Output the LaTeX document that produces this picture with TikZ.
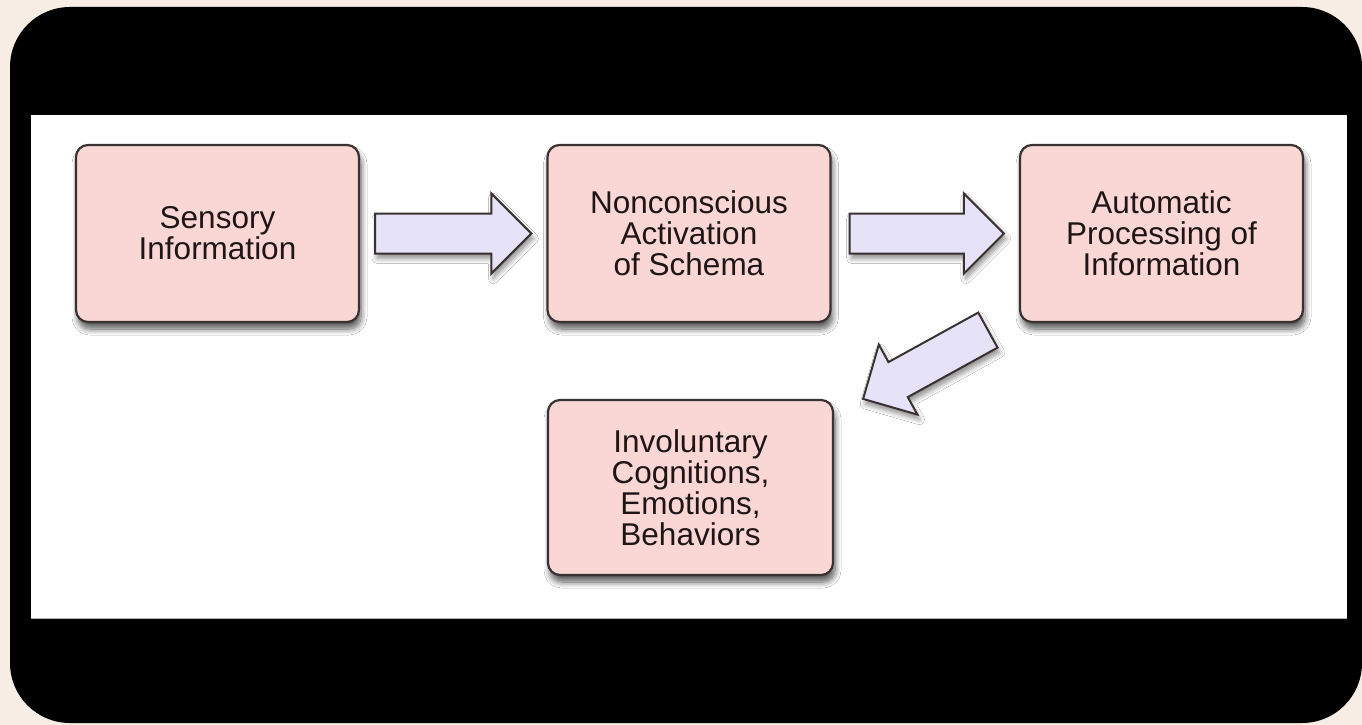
\documentclass[tikz,border=0pt]{standalone}
\usepackage{fontspec}
\setmainfont{Liberation Sans}
\usetikzlibrary{calc,shadows.blur}
\definecolor{bgbeige}{HTML}{F7EDE4}
\definecolor{boxpink}{HTML}{FAD6D5}
\definecolor{arrlav}{HTML}{E6E2F7}
\definecolor{edgedark}{HTML}{3A3232}
\definecolor{txtdark}{HTML}{1E1616}
\tikzset{
  stagebox/.style={draw=edgedark, line width=2.2pt, fill=boxpink, rounded corners=12pt,
    minimum width=283pt, align=center, text=txtdark,
    font=\fontsize{31.5}{31}\selectfont,
    blur shadow={shadow xshift=2pt, shadow yshift=-7pt, shadow blur steps=8, shadow blur radius=6pt, shadow opacity=65}},
  blockarrow/.style={draw=edgedark, line width=2pt, fill=arrlav, line join=miter,
    blur shadow={shadow xshift=2pt, shadow yshift=-5pt, shadow blur steps=6, shadow blur radius=5pt, shadow opacity=45}}
}
\newcommand\blkarrow[2]{%
  \path[blockarrow]
    ($(#1)!20pt!90:(#2)$) -- ($($(#2)!40pt!(#1)$)!20pt!-90:(#1)$)
    -- ($($(#2)!40pt!(#1)$)!40pt!-90:(#1)$) -- (#2)
    -- ($($(#2)!40pt!(#1)$)!40pt!90:(#1)$) -- ($($(#2)!40pt!(#1)$)!20pt!90:(#1)$)
    -- ($(#1)!20pt!-90:(#2)$) -- cycle;
}
\begin{document}
\begin{tikzpicture}[x=1pt,y=-1pt]
\useasboundingbox (0,0) rectangle (1362,725);
\fill[bgbeige] (0,0) rectangle (1362,725);
\fill[black, rounded corners=60pt] (10,7) rectangle (1362,723);
\fill[white] (31,115) rectangle (1347,618);
\draw[gray!60, line width=0.8pt] (31,618) -- (1347,618);

\node[stagebox, minimum height=177pt] (sens) at (217.5,233.5) {Sensory\\Information};
\node[stagebox, minimum height=177pt] (nonc) at (689,233.5) {Nonconscious\\Activation\\of Schema};
\node[stagebox, minimum height=177pt] (auto) at (1161.5,233.5) {Automatic\\Processing of\\Information};
\node[stagebox, minimum height=175pt, minimum width=285pt] (invol) at (690.5,487.5) {Involuntary\\Cognitions,\\Emotions,\\Behaviors};

\coordinate (a1s) at ($(sens.east)+(15,0)$);
\coordinate (a1e) at ($(nonc.west)+(-15,0)$);
\coordinate (a2s) at ($(nonc.east)+(18,0)$);
\coordinate (a2e) at ($(auto.west)+(-15,0)$);
\coordinate (a3s) at ($(auto.south west)+(-31,7)$);
\coordinate (a3e) at ($(invol.north east)+(29,0)$);

\blkarrow{a1s}{a1e}
\blkarrow{a2s}{a2e}
\blkarrow{a3s}{a3e}
\end{tikzpicture}
\end{document}
